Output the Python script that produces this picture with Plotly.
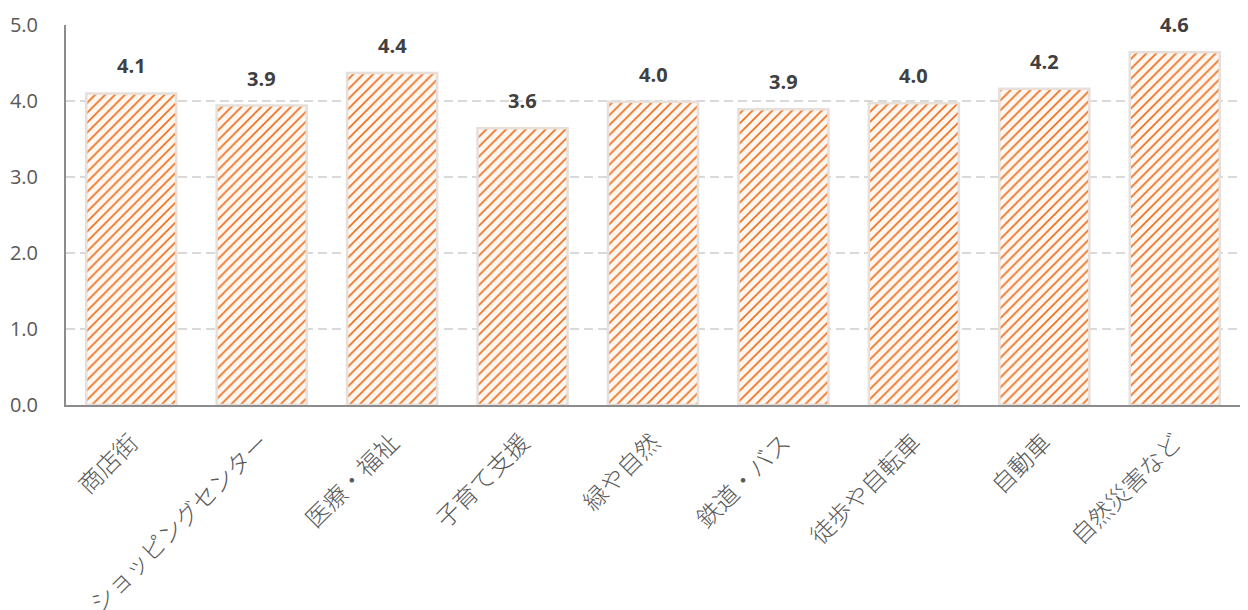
import plotly.graph_objects as go

categories = ["商店街", "ショッピングセンター", "医療・福祉", "子育て支援", "緑や自然",
              "鉄道・バス", "徒歩や自転車", "自動車", "自然災害など"]
scores = [4.10, 3.94, 4.37, 3.64, 3.99, 3.89, 3.97, 4.16, 4.64]
y_ticks = [0, 1, 2, 3, 4, 5]
y_tick_labels = ["0.0", "1.0", "2.0", "3.0", "4.0", "5.0"]

num_font = "Open Sans, Noto Sans, sans-serif"
jp_font = "Noto Sans CJK JP, sans-serif"

fig = go.Figure(
    go.Bar(
        x=categories,
        y=scores,
        width=0.69,
        marker=dict(
            color="#fff6ef",
            line=dict(color="#e6dfda", width=2.5),
            pattern=dict(shape="/", fgcolor="#ec6f1e", bgcolor="#fff8f2",
                         size=7, solidity=0.24, fgopacity=1),
        ),
        hoverinfo="x+y",
    )
)

# value labels above each bar
for cat, val in zip(categories, scores):
    fig.add_annotation(
        x=cat, y=val, text=f"{val:.1f}", showarrow=False,
        yanchor="bottom", yshift=12,
        font=dict(family=num_font, size=20, color="#404040", weight="bold"),
    )

fig.update_layout(
    width=1248,
    height=610,
    margin=dict(l=66, r=8, t=25, b=205, autoexpand=False),
    plot_bgcolor="white",
    paper_bgcolor="white",
    showlegend=False,
)

fig.update_yaxes(
    range=[0, 5],
    tickvals=y_ticks,
    ticktext=y_tick_labels,
    tickfont=dict(family=num_font, size=20, color="#595959"),
    showgrid=True,
    gridcolor="#d9d9d9",
    griddash="9px,5px",
    gridwidth=1.5,
    showline=True,
    linecolor="#8c8c8c",
    linewidth=2,
    zeroline=False,
    ticks="",
    ticklabelstandoff=22,
    automargin=False,
)

fig.update_xaxes(
    tickangle=-45,
    tickfont=dict(family=jp_font, size=24, color="#595959", weight=300),
    showline=True,
    linecolor="#8c8c8c",
    linewidth=2,
    ticks="",
    ticklabelstandoff=12,
    automargin=False,
)

fig.write_html("out.html")
